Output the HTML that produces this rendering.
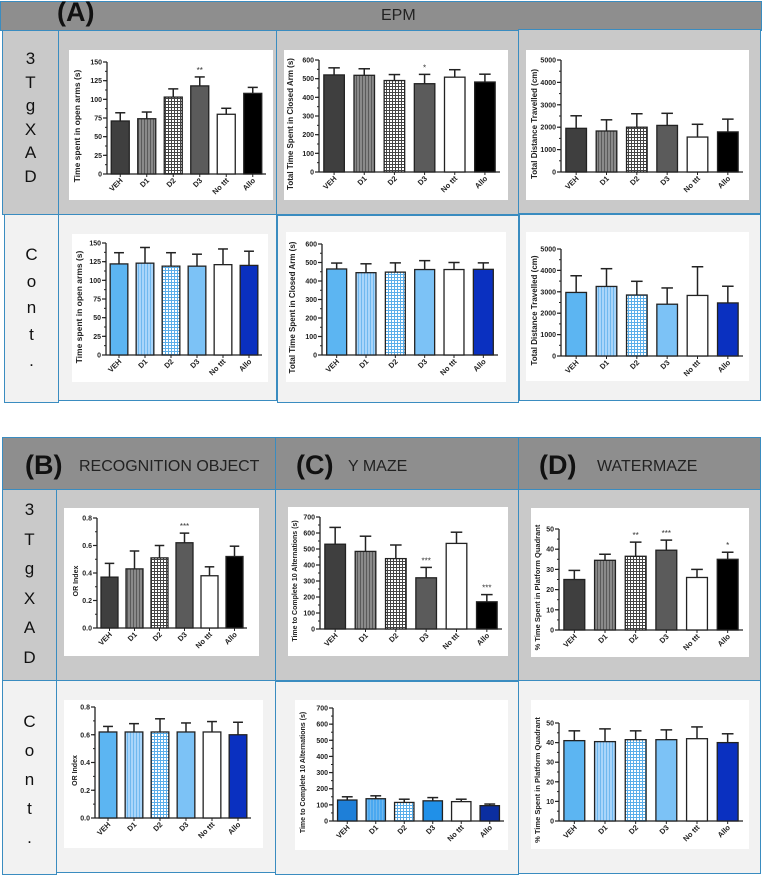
<!DOCTYPE html>
<html><head><meta charset="utf-8">
<style>
body{margin:0;width:764px;height:876px;background:#fff;position:relative;overflow:hidden;font-family:"Liberation Sans",sans-serif}
.b{position:absolute;box-sizing:border-box;border:1px solid #3a8cc0}
.hd{background:#8e8e8e}
.g{background:#c9c9c9}
.w{background:#f2f2f2}
.ins{position:absolute;background:#fff}
.lbl{position:absolute;text-align:center;font-size:17px;color:#111;width:100%}
.big{font-weight:bold;font-size:27px;position:absolute;top:-5px;color:#111}
.ht{position:absolute;font-size:16px;color:#222}
svg{position:absolute;left:0;top:0}
</style></head><body>
<!-- Section A -->
<div class="b hd" style="left:0;top:1px;width:762px;height:30px">
 <span class="big" style="left:56px">(A)</span>
 <span class="ht" style="left:380px;top:5px">EPM</span>
</div>
<div class="b g" style="left:2px;top:30px;width:57px;height:185px" id="lab1"></div>
<div class="b g" style="left:58px;top:30px;width:219px;height:185px"><div class="ins" style="left:10px;top:19px;width:204px;height:150px" id="c1"></div></div>
<div class="b g" style="left:276px;top:30px;width:243px;height:185px"><div class="ins" style="left:7px;top:19px;width:224px;height:150px" id="c2"></div></div>
<div class="b g" style="left:518px;top:29px;width:243px;height:185px"><div class="ins" style="left:7px;top:20px;width:223px;height:150px" id="c3"></div></div>
<div class="b w" style="left:4px;top:214px;width:55px;height:189px" id="lab2"></div>
<div class="b w" style="left:58px;top:214px;width:219px;height:187px"><div class="ins" style="left:13px;top:19px;width:196px;height:148px" id="c4"></div></div>
<div class="b w" style="left:277px;top:215px;width:242px;height:188px"><div class="ins" style="left:8px;top:16px;width:220px;height:150px" id="c5"></div></div>
<div class="b w" style="left:519px;top:214px;width:242px;height:187px"><div class="ins" style="left:6px;top:17px;width:223px;height:149px" id="c6"></div></div>
<!-- Section B/C/D -->
<div class="b hd" style="left:2px;top:437px;width:274px;height:54px">
 <span class="big" style="left:22px;top:12px">(B)</span>
 <span class="ht" style="left:76px;top:20px">RECOGNITION OBJECT</span>
</div>
<div class="b hd" style="left:275px;top:437px;width:244px;height:54px">
 <span class="big" style="left:20px;top:12px">(C)</span>
 <span class="ht" style="left:72px;top:20px">Y MAZE</span>
</div>
<div class="b hd" style="left:518px;top:437px;width:243px;height:54px">
 <span class="big" style="left:20px;top:12px">(D)</span>
 <span class="ht" style="left:78px;top:20px">WATERMAZE</span>
</div>
<div class="b g" style="left:2px;top:489px;width:55px;height:192px" id="lab3"></div>
<div class="b g" style="left:56px;top:489px;width:220px;height:192px"><div class="ins" style="left:7px;top:18px;width:195px;height:148px" id="c7"></div></div>
<div class="b g" style="left:275px;top:489px;width:244px;height:192px"><div class="ins" style="left:12px;top:17px;width:220px;height:149px" id="c8"></div></div>
<div class="b g" style="left:518px;top:489px;width:243px;height:192px"><div class="ins" style="left:12px;top:18px;width:218px;height:149px" id="c9"></div></div>
<div class="b w" style="left:2px;top:680px;width:55px;height:195px" id="lab4"></div>
<div class="b w" style="left:56px;top:680px;width:220px;height:193px"><div class="ins" style="left:7px;top:19px;width:199px;height:148px" id="c10"></div></div>
<div class="b w" style="left:275px;top:681px;width:244px;height:194px"><div class="ins" style="left:19px;top:18px;width:213px;height:150px" id="c11"></div></div>
<div class="b w" style="left:518px;top:680px;width:243px;height:194px"><div class="ins" style="left:12px;top:19px;width:218px;height:149px" id="c12"></div></div>

<script>
const categories=["VEH","D1","D2","D3","No ttt","Allo"];
// EPM 3TgXAD
const openTg=[71,74,103,118,80,108];
const openTgErr=[11,9,11,12,8,8];
const openTgStars=["","","","**","",""];
const closedTg=[520,518,490,473,508,482];
const closedTgErr=[38,35,32,50,40,42];
const closedTgStars=["","","","*","",""];
const distTg=[1950,1830,2000,2080,1560,1790];
const distTgErr=[560,500,600,540,570,570];
// EPM control
const openCont=[122,123,119,119,121,120];
const openContErr=[15,21,18,16,21,19];
const closedCont=[465,445,448,462,462,463];
const closedContErr=[32,48,50,48,38,35];
const distCont=[2970,3250,2850,2420,2830,2480];
const distContErr=[780,830,640,760,1340,780];
// B, C, D 3TgXAD
const orTg=[0.37,0.43,0.51,0.62,0.38,0.52];
const orTgErr=[0.10,0.13,0.09,0.07,0.065,0.075];
const orTgStars=["","","","***","",""];
const ymTg=[530,485,440,320,535,170];
const ymTgErr=[105,95,85,65,70,45];
const ymTgStars=["","","","***","","***"];
const wmTg=[25,34.5,36.5,39.5,26,35];
const wmTgErr=[4.5,3,7,5,4,3.5];
const wmTgStars=["","","**","***","","*"];
// B, C, D control
const orCont=[0.62,0.62,0.62,0.62,0.62,0.60];
const orContErr=[0.04,0.06,0.095,0.065,0.075,0.09];
const ymCont=[130,138,115,125,120,95];
const ymContErr=[20,18,20,20,15,10];
const wmCont=[41,40.5,41.5,41.5,42,40];
const wmContErr=[5,6.5,4.5,5,6,4.5];
// ticks
const openTicks=[0,25,50,75,100,125,150];
const closedTicks=[0,100,200,300,400,500,600];
const distTicks=[0,1000,2000,3000,4000,5000];
const orTicks=["0.0","0.2","0.4","0.6","0.8"];
const ymTicks=[0,100,200,300,400,500,600,700];
const wmTicks=[0,10,20,30,40,50];

const NS="http://www.w3.org/2000/svg";
function mk(tag,attrs,parent){const e=document.createElementNS(NS,tag);for(const k in attrs)e.setAttribute(k,attrs[k]);if(parent)parent.appendChild(e);return e;}

function draw(id,vals,errs,stars,ticks,title,scheme,m){
 const box=document.getElementById(id);
 const W=box.clientWidth,H=box.clientHeight;
 const svg=mk("svg",{width:W,height:H});
 
 
 box.appendChild(svg);
 const defs=mk("defs",{},svg);
 const stripeCol=scheme==="tg"?"#8a8a8a":(scheme==="ym"?"#4aa8f0":"#a9d5fa");
 const p1=mk("pattern",{id:id+"s",width:3,height:3,patternUnits:"userSpaceOnUse"},defs);
 mk("rect",{width:3,height:3,fill:stripeCol},p1);
 mk("rect",{width:1,height:3,fill:scheme==="tg"?"#5a5a5a":"#6fb8ef"},p1);
 const p2=mk("pattern",{id:id+"c",width:3,height:3,patternUnits:"userSpaceOnUse"},defs);
 mk("rect",{width:3,height:3,fill:"#fff"},p2);
 mk("rect",{width:3,height:1,fill:scheme==="tg"?"#444":"#5aaeea"},p2);
 mk("rect",{width:1,height:3,fill:scheme==="tg"?"#444":"#5aaeea"},p2);
 let fills;
 if(scheme==="tg")fills=["#3f3f3f","url(#"+id+"s)","url(#"+id+"c)","#5b5b5b","#fff","#000"];
 else if(scheme==="ym")fills=["#1e7fd8","url(#"+id+"s)","url(#"+id+"c)","#2090e8","#fff","#0b2ea0"];
 else fills=["#5cb5f2","url(#"+id+"s)","url(#"+id+"c)","#7cc2f6","#fff","#0a30c0"];
 const L=m.l,R=W-(m.r||6),T=m.t,B=H-(m.b||27);
 const tv=ticks.map(Number);const ymax=tv[tv.length-1];
 const y=v=>B-(v/ymax)*(B-T);
 const slot=(R-L)/categories.length,bw=slot*0.68;
 const g=mk("g",{},svg);
 const ax=mk("line",{x1:L,y1:T,x2:L,y2:B,stroke:"#222","stroke-width":1.3},g);
 
 
 const mstep=(tv[1]-tv[0])/2;
 for(let v=0;v<=ymax+1e-9;v+=mstep){mk("line",{x1:L-2,y1:y(v),x2:L,y2:y(v),stroke:"#222","stroke-width":1},g);}
 ticks.forEach((t,i)=>{
  mk("line",{x1:L-4,y1:y(tv[i]),x2:L,y2:y(tv[i]),stroke:"#222","stroke-width":1.2},g);
  const tx=mk("text",{x:L-5,y:y(tv[i])+2.5,"text-anchor":"end","font-size":7,"font-weight":"bold",fill:"#222"},g);
  tx.textContent=t;
  
  
 });
 const xa=mk("line",{x1:L,y1:B,x2:R,y2:B,stroke:"#222","stroke-width":1.3},g);
 
 
 const tt=mk("text",{transform:`translate(${m.tx||10},${(T+B)/2+(m.ty||8)}) rotate(-90)`,"text-anchor":"middle","font-size":m.fs||8,"font-weight":"bold",fill:"#222"},g);
 tt.textContent=title;
 
 
 categories.forEach((c,i)=>{
  const cx=L+slot*(i+0.5);
  mk("line",{x1:cx,y1:B,x2:cx,y2:B+3,stroke:"#222","stroke-width":1},g);
  const lt=mk("text",{transform:`translate(${cx+3},${B+7}) rotate(-45)`,"text-anchor":"end","font-size":7.5,"font-weight":"bold",fill:"#222"},g);
  lt.textContent=c;
  
  
  const v=vals[i],e=errs[i];
  const top=y(v+e);
  const el=mk("line",{x1:cx,y1:y(v),x2:cx,y2:top,stroke:"#222","stroke-width":1.5},g);
  
  
  mk("line",{x1:cx-bw*0.28,y1:top,x2:cx+bw*0.28,y2:top,stroke:"#222","stroke-width":1.5},g);
  const r=mk("rect",{x:cx-bw/2,y:y(v),width:bw,height:B-y(v),fill:fills[i],stroke:"#222","stroke-width":1.3},g);
  
  
  if(stars&&stars[i]){
   const st=mk("text",{x:cx,y:top-4,"text-anchor":"middle","font-size":8,fill:"#333"},g);
   st.textContent=stars[i];
   
   
  }
 });
}
draw("c1",openTg,openTgErr,openTgStars,openTicks,"Time spent in open arms  (s)","tg",{l:38,t:12,r:7,b:26,tx:11,fs:8.5});
draw("c2",closedTg,closedTgErr,closedTgStars,closedTicks,"Total Time Spent in Closed Arm (s)","tg",{l:35,t:10,r:8,b:28,tx:9,fs:8});
draw("c3",distTg,distTgErr,null,distTicks,"Total Distance Travelled (cm)","tg",{l:35,t:10,r:6,b:28,tx:11,fs:8});
draw("c4",openCont,openContErr,null,openTicks,"Time spent in open arms  (s)","cont",{l:34,t:9,r:6,b:27,tx:10,fs:8.5});
draw("c5",closedCont,closedContErr,null,closedTicks,"Total Time Spent in Closed Arm (s)","cont",{l:36,t:12,r:8,b:27,tx:9,fs:8});
draw("c6",distCont,distContErr,null,distTicks,"Total Distance Travelled (cm)","cont",{l:35,t:17,r:6,b:25,tx:11,fs:8});
draw("c7",orTg,orTgErr,orTgStars,orTicks,"OR Index","tg",{l:33,t:10,r:12,b:28,tx:14,fs:7});
draw("c8",ymTg,ymTgErr,ymTgStars,ymTicks,"Time to Complete 10  Alternations (s)","tg",{l:32,t:10,r:6,b:27,tx:9,fs:7});
draw("c9",wmTg,wmTgErr,wmTgStars,wmTicks,"% Time Spent in Platform Quadrant","tg",{l:28,t:21,r:6,b:27,tx:9,fs:7.5});
draw("c10",orCont,orContErr,null,orTicks,"OR Index","cont",{l:31,t:7,r:12,b:30,tx:13,fs:7});
draw("c11",ymCont,ymContErr,null,ymTicks,"Time to Complete 10  Alternations (s)","ym",{l:38,t:8,r:4,b:29,tx:10,fs:7});
draw("c12",wmCont,wmContErr,null,wmTicks,"% Time Spent in Platform Quadrant","cont",{l:28,t:23,r:6,b:28,tx:9,fs:7.5});

function letters(id,chars,top,step){
 const box=document.getElementById(id);
 chars.forEach((c,i)=>{
  const d=document.createElement('div');
  d.className='lbl';d.style.top=(top+i*step)+'px';d.textContent=c;
  
  
  box.appendChild(d);
 });
}
letters("lab1",["3","T","g","X","A","D"],18,23.5);
letters("lab2",["C","o","n","t","."],30,26.5);
letters("lab3",["3","T","g","X","A","D"],10,29.5);
letters("lab4",["C","o","n","t","."],31,29);
</script>
</body></html>
